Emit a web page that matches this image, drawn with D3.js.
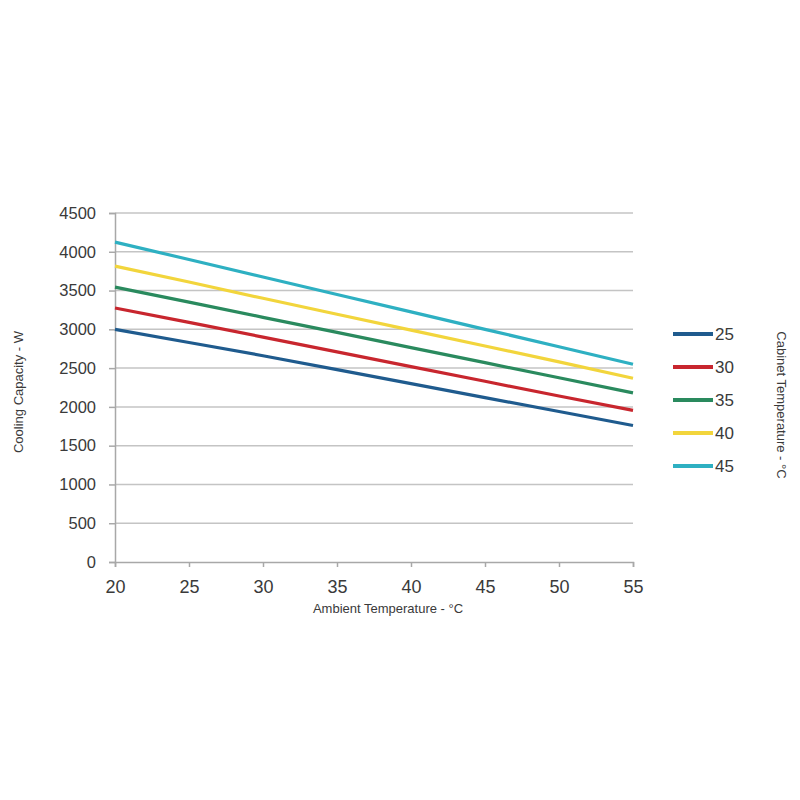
<!DOCTYPE html>
<html><head><meta charset="utf-8">
<script src="https://cdn.jsdelivr.net/npm/d3@7"></script>
<style>
body{margin:0;background:#fff;}
svg{font-family:"Liberation Sans",Arial,sans-serif;}
</style></head>
<body><svg id="c" width="800" height="800"></svg>
<script>
const ambient = [20, 25, 30, 35, 40, 45, 50, 55];
const cabinetTemps = ["25", "30", "35", "40", "45"];
const s25 = [3000, 2830, 2660, 2480, 2300, 2120, 1940, 1760];
const s30 = [3275, 3090, 2900, 2710, 2520, 2330, 2140, 1955];
const s35 = [3545, 3350, 3155, 2960, 2765, 2570, 2375, 2180];
const s40 = [3815, 3610, 3400, 3195, 2990, 2785, 2580, 2370];
const s45 = [4125, 3900, 3675, 3450, 3225, 3000, 2775, 2550];
const yTicks = [0, 500, 1000, 1500, 2000, 2500, 3000, 3500, 4000, 4500];
const xTicks = [20, 25, 30, 35, 40, 45, 50, 55];
const colors = ["#1f5b8e", "#c8262e", "#2a8a5e", "#f2d53c", "#2eb0c2"];
const seriesList = [s25, s30, s35, s40, s45];

const svg = d3.select("#c");
const x = d3.scaleLinear().domain([20, 55]).range([115, 633]);
const y = d3.scaleLinear().domain([0, 4500]).range([562, 213]);

// gridlines
svg.append("g").selectAll("line").data(yTicks.filter(d => d > 0)).join("line")
  .attr("x1", x(20)).attr("x2", x(55))
  .attr("y1", d => y(d)).attr("y2", d => y(d))
  .attr("stroke", "#c4c4c4").attr("stroke-width", 1.5);

// y axis
const ya = svg.append("g").attr("transform", `translate(${x(20)},0)`)
  .call(d3.axisLeft(y).tickValues(yTicks).tickFormat(d3.format("d")).tickSize(6).tickPadding(13));
ya.select(".domain").attr("stroke", "#a8a8a8").attr("stroke-width", 1.5);
ya.selectAll(".tick line").attr("stroke", "#a8a8a8").attr("stroke-width", 1.5);
ya.selectAll("text").attr("font-size", 16.5).attr("fill", "#3a3a3a").attr("font-family", "Liberation Sans, Arial, sans-serif");

// x axis
const xa = svg.append("g").attr("transform", `translate(0,${y(0)})`)
  .call(d3.axisBottom(x).tickValues(xTicks).tickSize(5).tickPadding(13));
xa.select(".domain").attr("stroke", "#a8a8a8").attr("stroke-width", 1.5);
xa.selectAll(".tick line").attr("stroke", "#a8a8a8").attr("stroke-width", 1.5);
xa.selectAll("text").attr("font-size", 18).attr("fill", "#3a3a3a").attr("font-family", "Liberation Sans, Arial, sans-serif");

// lines
const line = d3.line().x((d, i) => x(ambient[i])).y(d => y(d));
seriesList.forEach((s, k) => {
  svg.append("path").datum(s).attr("d", line)
    .attr("fill", "none").attr("stroke", colors[k]).attr("stroke-width", 3.2);
});

// legend
const lg = svg.append("g");
cabinetTemps.forEach((t, k) => {
  const yy = 334 + k * 33;
  lg.append("line").attr("x1", 673).attr("x2", 713).attr("y1", yy).attr("y2", yy)
    .attr("stroke", colors[k]).attr("stroke-width", 4);
  lg.append("text").attr("x", 715).attr("y", yy).attr("dy", "0.36em")
    .attr("font-size", 17).attr("fill", "#3a3a3a").text(t);
});

// titles
svg.append("text").attr("x", 388).attr("y", 613).attr("text-anchor", "middle")
  .attr("font-size", 13).attr("fill", "#3a3a3a").text("Ambient Temperature - °C");
svg.append("text").attr("transform", "translate(23,392) rotate(-90)").attr("text-anchor", "middle")
  .attr("font-size", 13).attr("fill", "#3a3a3a").text("Cooling Capacity - W");
svg.append("text").attr("transform", "translate(777,405) rotate(90)").attr("text-anchor", "middle")
  .attr("font-size", 13).attr("fill", "#3a3a3a").text("Cabinet Temperature - °C");
</script></body></html>
